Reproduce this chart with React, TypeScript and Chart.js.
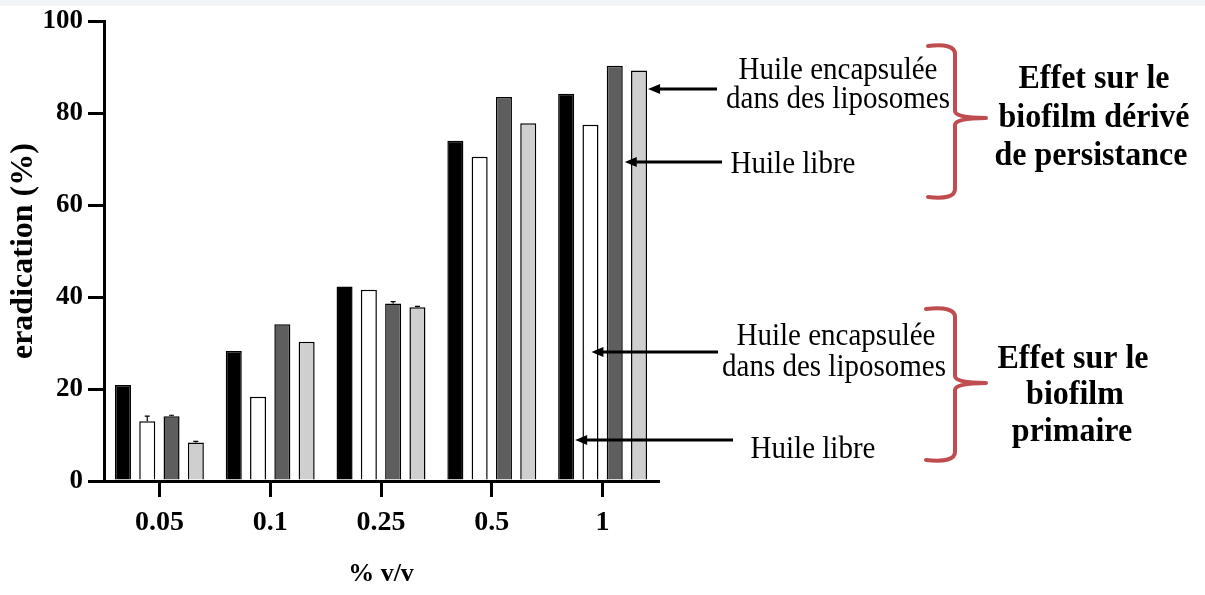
import { useEffect, useRef } from 'react';
import { Chart, registerables } from 'chart.js';

Chart.register(...registerables);

const categories = ['0.05', '0.1', '0.25', '0.5', '1'];
// Effet sur le biofilm primaire
const primaryFree = [20.9, 28.3, 42.3, 74.0, 84.2];
const primaryLiposome = [13.0, 18.3, 41.6, 70.5, 77.5];
// Effet sur le biofilm dérivé de persistance
const persisterFree = [14.1, 34.1, 38.6, 83.5, 90.3];
const persisterLiposome = [8.4, 30.3, 37.8, 77.8, 89.3];
// small error bars
const primaryFreeErr = [0, 0, 0, 0, 0];
const primaryLiposomeErr = [1.1, 0, 0, 0, 0];
const persisterFreeErr = [0.2, 0, 0.4, 0, 0];
const persisterLiposomeErr = [0.2, 0, 0.2, 0, 0];

const yMin = 0;
const yMax = 100;
const yStep = 20;

const SERIF = '"Liberation Serif", "Times New Roman", Times, serif';
const BRACKET_RED = '#bf4d4f';

const errorSets = [primaryFreeErr, primaryLiposomeErr, persisterFreeErr, persisterLiposomeErr];

const errorBarPlugin = {
  id: 'errorBars',
  afterDatasetsDraw(chart: any) {
    const ctx = chart.ctx;
    const yScale = chart.scales.y;
    ctx.save();
    ctx.strokeStyle = '#000';
    ctx.lineWidth = 1.2;
    chart.data.datasets.forEach((ds: any, i: number) => {
      const meta = chart.getDatasetMeta(i);
      meta.data.forEach((el: any, j: number) => {
        const v = ds.data[j];
        const e = errorSets[i][j];
        if (!e) return;
        const yTop = yScale.getPixelForValue(v + e);
        const yVal = yScale.getPixelForValue(v);
        ctx.beginPath();
        ctx.moveTo(el.x, yVal);
        ctx.lineTo(el.x, yTop);
        ctx.moveTo(el.x - 2.5, yTop);
        ctx.lineTo(el.x + 2.5, yTop);
        ctx.stroke();
      });
    });
    ctx.restore();
  },
};

function arrow(ctx: CanvasRenderingContext2D, xTail: number, xTip: number, y: number) {
  ctx.beginPath();
  ctx.moveTo(xTail, y);
  ctx.lineTo(xTip + 10, y);
  ctx.stroke();
  ctx.beginPath();
  ctx.moveTo(xTip, y);
  ctx.lineTo(xTip + 12, y - 5);
  ctx.lineTo(xTip + 12, y + 5);
  ctx.closePath();
  ctx.fill();
}

function bracket(ctx: CanvasRenderingContext2D, xl: number, xv: number, xt: number, yTop: number, yMid: number, yBot: number) {
  ctx.beginPath();
  ctx.moveTo(xl, yTop + 1);
  ctx.quadraticCurveTo(xv, yTop - 2, xv, yTop + 9);
  ctx.lineTo(xv, yMid - 7);
  ctx.quadraticCurveTo(xv, yMid, xt, yMid);
  ctx.moveTo(xt, yMid);
  ctx.quadraticCurveTo(xv, yMid, xv, yMid + 7);
  ctx.lineTo(xv, yBot - 9);
  ctx.quadraticCurveTo(xv, yBot + 2, xl, yBot - 1);
  ctx.stroke();
}

function tallText(ctx: CanvasRenderingContext2D, text: string, x: number, y: number, sy: number) {
  ctx.save();
  ctx.translate(x, y);
  ctx.scale(1, sy);
  ctx.fillText(text, 0, 0);
  ctx.restore();
}

const annotationPlugin = {
  id: 'annotations',
  beforeDraw(chart: any) {
    const ctx = chart.ctx;
    ctx.save();
    ctx.fillStyle = '#ffffff';
    ctx.fillRect(0, 0, chart.width, chart.height);
    ctx.fillStyle = '#f1f5f8';
    ctx.fillRect(0, 0, chart.width, 6);
    ctx.restore();
  },
  afterDraw(chart: any) {
    const ctx = chart.ctx;
    const last = categories.length - 1;
    const elPF = chart.getDatasetMeta(0).data[last];
    const elPL = chart.getDatasetMeta(1).data[last];
    const elSF = chart.getDatasetMeta(2).data[last];
    const elSL = chart.getDatasetMeta(3).data[last];
    ctx.save();
    // arrows
    ctx.strokeStyle = '#000';
    ctx.fillStyle = '#000';
    ctx.lineWidth = 3;
    arrow(ctx, 717, elSL.x + elSL.width / 2 + 1, 89);
    arrow(ctx, 722, elSF.x + elSF.width / 2 + 2, 162);
    arrow(ctx, 718, elPL.x + 1, 352);
    arrow(ctx, 733, elPF.x + elPF.width / 2 + 1, 440);

    // labels
    ctx.textAlign = 'center';
    ctx.textBaseline = 'alphabetic';
    ctx.font = `29px ${SERIF}`;
    tallText(ctx, 'Huile encapsulée', 838, 79, 1.08);
    tallText(ctx, 'dans des liposomes', 838, 108, 1.08);
    tallText(ctx, 'Huile libre', 793, 173, 1.08);
    tallText(ctx, 'Huile encapsulée', 836, 345, 1.08);
    tallText(ctx, 'dans des liposomes', 834, 376, 1.08);
    tallText(ctx, 'Huile libre', 813, 458, 1.08);

    ctx.font = `bold 32px ${SERIF}`;
    tallText(ctx, 'Effet sur le', 1094, 88, 1.08);
    tallText(ctx, 'biofilm dérivé', 1094, 127, 1.08);
    tallText(ctx, 'de persistance', 1091, 165, 1.08);
    tallText(ctx, 'Effet sur le', 1073, 368, 1.08);
    tallText(ctx, 'biofilm', 1075, 404, 1.08);
    tallText(ctx, 'primaire', 1072, 441, 1.08);

    // brackets
    ctx.strokeStyle = BRACKET_RED;
    ctx.lineWidth = 4;
    ctx.lineCap = 'round';
    bracket(ctx, 928, 955, 986, 45, 118, 198);
    bracket(ctx, 926, 955, 986, 308, 383, 461);
    ctx.restore();
  },
};

export default function App() {
  const canvasRef = useRef<HTMLCanvasElement | null>(null);

  useEffect(() => {
    if (!canvasRef.current) return;
    const barStyle = { borderColor: '#000', borderWidth: 1.5, borderSkipped: 'start' as const };
    const chart = new Chart(canvasRef.current, {
      type: 'bar',
      data: {
        labels: categories,
        datasets: [
          { label: 'Huile libre (biofilm primaire)', data: primaryFree, backgroundColor: '#000000', ...barStyle },
          { label: 'Huile encapsulée (biofilm primaire)', data: primaryLiposome, backgroundColor: '#ffffff', ...barStyle },
          { label: 'Huile libre (biofilm de persistance)', data: persisterFree, backgroundColor: '#5e5e5e', ...barStyle },
          { label: 'Huile encapsulée (biofilm de persistance)', data: persisterLiposome, backgroundColor: '#cfcfcf', ...barStyle },
        ],
      },
      options: {
        responsive: false,
        animation: false,
        devicePixelRatio: 1,
        categoryPercentage: 0.877,
        barPercentage: 0.66,
        layout: { padding: { left: 0, top: 20, right: 547, bottom: 0 } },
        plugins: {
          legend: { display: false },
          tooltip: { enabled: false },
          title: { display: false },
        },
        scales: {
          x: {
            offset: true,
            grid: {
              display: true,
              drawOnChartArea: false,
              drawTicks: true,
              tickLength: 16,
              lineWidth: 3,
              color: '#000',
              offset: false,
            },
            border: { display: true, width: 3, color: '#000' },
            ticks: {
              color: '#000',
              font: { family: SERIF, size: 28, weight: 'bold' },
              padding: 9,
              maxRotation: 0,
            },
            title: {
              display: true,
              text: '% v/v',
              color: '#000',
              font: { family: SERIF, size: 26, weight: 'bold' },
              padding: { top: 0, bottom: 5 },
            },
            afterFit: (s: any) => {
              s.height = 114;
            },
          },
          y: {
            min: yMin,
            max: yMax,
            grid: {
              display: true,
              drawOnChartArea: false,
              drawTicks: true,
              tickLength: 16,
              lineWidth: 3,
              color: '#000',
            },
            border: { display: true, width: 3, color: '#000' },
            ticks: {
              stepSize: yStep,
              color: '#000',
              font: { family: SERIF, size: 27, weight: 'bold' },
              padding: 5,
            },
            title: {
              display: true,
              text: 'eradication (%)',
              color: '#000',
              font: { family: SERIF, size: 32, weight: 'bold' },
              padding: { top: 5, bottom: 0 },
            },
            afterFit: (s: any) => {
              s.width = 104;
            },
          },
        },
      } as any,
      plugins: [errorBarPlugin, annotationPlugin],
    });
    return () => chart.destroy();
  }, []);

  return (
    <div style={{ position: 'absolute', left: 0, top: 0, width: 1205, height: 595 }}>
      <canvas ref={canvasRef} width={1205} height={595} />
    </div>
  );
}
